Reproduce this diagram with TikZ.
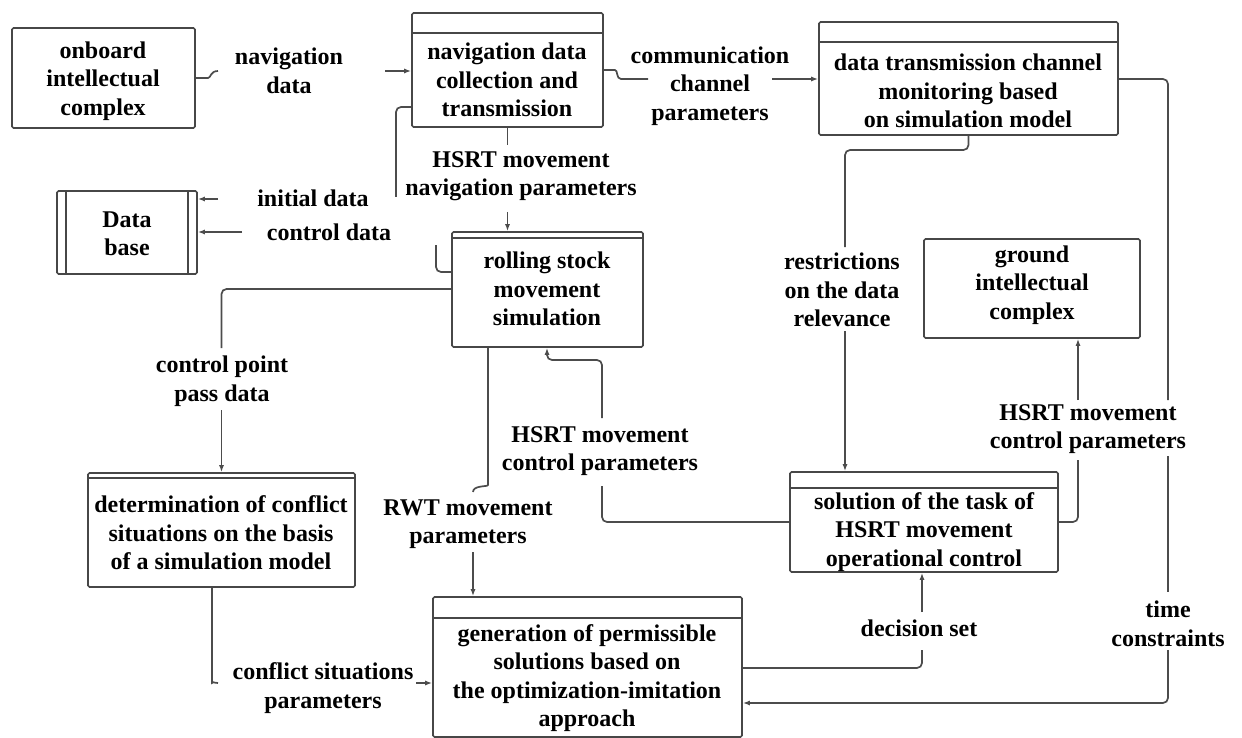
\documentclass[tikz,border=0pt]{standalone}
\usepackage{fontspec}
\setmainfont{Liberation Serif}
\usetikzlibrary{arrows.meta}
\begin{document}
\begin{tikzpicture}[x=1pt,y=-1pt,
  blk/.style={draw=black!72, line width=1.6pt, rounded corners=1.5pt, inner sep=0pt, fill=white},
  txt/.style={align=center, inner sep=0pt, font=\fontsize{24}{28.5}\selectfont\bfseries},
  wire/.style={draw=black!70, line width=1.7pt, rounded corners=5pt},
  arr/.style={wire, -{Latex[length=7pt,width=5pt]}},
  hdr/.style={draw=black!72, line width=1.6pt}]
\useasboundingbox (0,0) rectangle (1242,738);

% ---------- process boxes ----------
\node[blk, minimum width=183pt, minimum height=100pt] (onboard) at (103.5,78) {};
\node[blk, minimum width=191pt, minimum height=114pt] (nav) at (507.5,70) {};
\node[blk, minimum width=299pt, minimum height=113pt] (dtc) at (968.5,78.5) {};
\node[blk, minimum width=140pt, minimum height=83pt] (db) at (127,232.5) {};
\node[blk, minimum width=191pt, minimum height=115pt] (rolling) at (547.5,289.5) {};
\node[blk, minimum width=216pt, minimum height=99pt] (ground) at (1032,288.5) {};
\node[blk, minimum width=267pt, minimum height=114pt] (det) at (221.5,530) {};
\node[blk, minimum width=268pt, minimum height=100pt] (sol) at (924,522) {};
\node[blk, minimum width=309pt, minimum height=140pt] (gen) at (587.5,667) {};

% header bands and store sides
\draw[hdr] ([yshift=-21pt]nav.north west) -- ([yshift=-21pt]nav.north east);
\draw[hdr] ([yshift=-21pt]dtc.north west) -- ([yshift=-21pt]dtc.north east);
\draw[hdr] ([yshift=-7pt]rolling.north west) -- ([yshift=-7pt]rolling.north east);
\draw[hdr] ([yshift=-6pt]det.north west) -- ([yshift=-6pt]det.north east);
\draw[hdr] ([yshift=-17pt]sol.north west) -- ([yshift=-17pt]sol.north east);
\draw[hdr] ([yshift=-22pt]gen.north west) -- ([yshift=-22pt]gen.north east);
\draw[hdr] ([xshift=10pt]db.north west) -- ([xshift=10pt]db.south west);
\draw[hdr] ([xshift=-10pt]db.north east) -- ([xshift=-10pt]db.south east);

% box texts
\node[txt] (onboardT) at (103,81) {onboard\\intellectual\\complex};
\node[txt] (navT) at (507,80) {navigation data\\collection and\\transmission};
\node[txt] (dtcT) at (968,91) {data transmission channel\\monitoring based\\on simulation model};
\node[txt] (dbT) at (127,234) {Data\\base};
\node[txt] (rollingT) at (547,289) {rolling stock\\movement\\simulation};
\node[txt] (groundT) at (1032,285) {ground\\intellectual\\complex};
\node[txt] (detT) at (221,533) {determination of conflict\\situations on the basis\\of a simulation model};
\node[txt] (solT) at (924,532) {solution of the task of\\HSRT movement\\operational control};
\node[txt] (genT) at (587,678) {generation of permissible\\solutions based on\\the optimization-imitation\\approach};

% ---------- flows ----------
% navigation data
\coordinate (c1a) at (203,78);
\coordinate (c1b) at (218,71);
\coordinate (c1c) at (385,71);
\draw[wire] (onboard.east) -- (c1a) .. controls (211,78) and (210,71) .. (c1b);
\node[txt] (navL) at (289,71) {navigation\\data};
\draw[arr] (c1c) -- (nav.west |- c1c);

% communication channel parameters
\coordinate (c2a) at (610,70);
\coordinate (c2b) at (626,79);
\coordinate (c2c) at (648,79);
\coordinate (c2d) at (772,79);
\draw[wire] (nav.east) -- (c2a) .. controls (618,70) and (616,79) .. (c2b) -- (c2c);
\node[txt] (comL) at (710,86) {communication\\channel\\parameters};
\draw[arr] (c2d) -- (dtc.west |- c2d);

% time constraints
\coordinate (c3a) at (1168,79);
\coordinate (c3b) at (1168,400);
\coordinate (c3c) at (1168,456);
\coordinate (c3d) at (1168,592);
\coordinate (c3e) at (1168,650);
\coordinate (c3f) at (1168,703);
\draw[wire] (dtc.east |- c3a) -- (c3a) -- (c3b);
\draw[wire] (c3c) -- (c3d);
\node[txt] (tcL) at (1168,624) {time\\constraints};
\draw[arr] (c3e) -- (c3f) -- (gen.east |- c3f);

% restrictions on the data relevance
\coordinate (c4a) at (968.5,150);
\coordinate (c4b) at (845,150);
\coordinate (c4c) at (845,247);
\coordinate (c4d) at (845,331);
\draw[wire] (dtc.south) -- (c4a) -- (c4b) -- (c4c);
\node[txt] (restrL) at (842,290) {restrictions\\on the data\\relevance};
\draw[arr] (c4d) -- (sol.north -| c4d);

% HSRT movement navigation parameters
\coordinate (c5a) at (507.5,145);
\coordinate (c5b) at (507.5,212);
\draw[wire] (nav.south) -- (c5a);
\node[txt] (navpL) at (521,176) {HSRT movement\\navigation parameters};
\draw[arr] (c5b) -- (rolling.north -| c5b);

% initial data
\coordinate (c6a) at (396,107);
\coordinate (c6b) at (396,197);
\coordinate (c6c) at (218,199);
\draw[wire] (nav.west |- c6a) -- (c6a) -- (c6b);
\node[txt] (initL) at (313,198) {initial data};
\draw[arr] (c6c) -- (db.east |- c6c);

% control data
\coordinate (c7a) at (436,272);
\coordinate (c7b) at (436,245);
\coordinate (c7c) at (242,232);
\draw[wire] (rolling.west |- c7a) -- (c7a) -- (c7b);
\node[txt] (ctrlL) at (329,232) {control data};
\draw[arr] (c7c) -- (db.east |- c7c);

% control point pass data
\coordinate (c8a) at (221.5,289);
\coordinate (c8b) at (221.5,348);
\coordinate (c8c) at (221.5,410);
\draw[wire] (rolling.west |- c8a) -- (c8a) -- (c8b);
\node[txt] (cpL) at (222,381) {control point\\pass data};
\draw[arr] (c8c) -- (det.north -| c8c);

% RWT movement parameters
\coordinate (c9a) at (488,480);
\coordinate (c9b) at (473,492);
\coordinate (c9c) at (473,552);
\draw[wire] (rolling.south -| c9a) -- (c9a) .. controls (488,487) and (473,485) .. (c9b);
\node[txt] (rwtL) at (468,524) {RWT movement\\parameters};
\draw[arr] (c9c) -- (gen.north -| c9c);

% HSRT movement control parameters (back to simulation)
\coordinate (c10a) at (602,522);
\coordinate (c10b) at (602,486);
\coordinate (c10c) at (602,418);
\coordinate (c10d) at (602,360);
\coordinate (c10e) at (547,360);
\draw[wire] (sol.west) -- (c10a) -- (c10b);
\node[txt] (hmc1L) at (600,451) {HSRT movement\\control parameters};
\draw[arr] (c10c) -- (c10d) -- (c10e) -- (rolling.south -| c10e);

% HSRT movement control parameters (to ground complex)
\coordinate (c11a) at (1078,522);
\coordinate (c11b) at (1078,460);
\coordinate (c11c) at (1078,400);
\draw[wire] (sol.east) -- (c11a) -- (c11b);
\node[txt] (hmc2L) at (1088,429) {HSRT movement\\control parameters};
\draw[arr] (c11c) -- (ground.south -| c11c);

% conflict situations parameters
\coordinate (c12a) at (212,678);
\coordinate (c12b) at (218,683);
\coordinate (c12c) at (416,683);
\draw[wire] (det.south -| c12a) -- (c12a) .. controls (212,681) and (214,683) .. (c12b);
\node[txt] (confL) at (323,688) {conflict situations\\parameters};
\draw[arr] (c12c) -- (gen.west |- c12c);

% decision set
\coordinate (c13a) at (922,668);
\coordinate (c13b) at (922,650);
\coordinate (c13c) at (922,612);
\draw[wire] (gen.east |- c13a) -- (c13a) -- (c13b);
\node[txt] (decL) at (919,628) {decision set};
\draw[arr] (c13c) -- (sol.south -| c13c);
\end{tikzpicture}
\end{document}
